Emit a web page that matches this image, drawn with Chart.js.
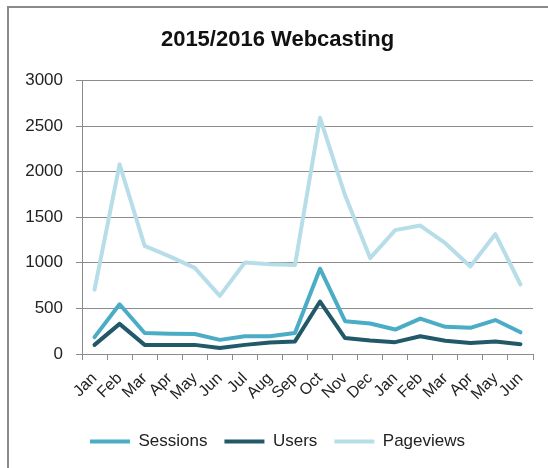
<!DOCTYPE html>
<html>
<head>
<meta charset="utf-8">
<script src="https://cdn.jsdelivr.net/npm/chart.js@4"></script>
<style>
  html, body { margin: 0; padding: 0; background: #fff; }
  #wrap { position: relative; width: 548px; height: 468px; }
  #frame { position: absolute; left: 7px; top: 6px; right: 0; bottom: 0;
           border-top: 2px solid #8a8a8a; border-left: 2px solid #8a8a8a; }
  canvas { position: absolute; left: 0; top: 0; }
</style>
</head>
<body>
<div id="wrap">
  <div id="frame"></div>
  <canvas id="lineChartCanvas" width="548" height="468"></canvas>
</div>
<script>
const months = ['Jan', 'Feb', 'Mar', 'Apr', 'May', 'Jun', 'Jul', 'Aug', 'Sep',
                'Oct', 'Nov', 'Dec', 'Jan', 'Feb', 'Mar', 'Apr', 'May', 'Jun'];
const sessions = [185, 545, 230, 222, 220, 155, 195, 195, 230, 935, 360, 335, 268, 388, 298, 287, 372, 238];
const users = [100, 330, 100, 100, 100, 65, 100, 125, 138, 575, 175, 148, 130, 195, 145, 120, 137, 108];
const pageviews = [705, 2080, 1185, 1070, 945, 637, 1003, 983, 975, 2590, 1740, 1052, 1358, 1408, 1215, 960, 1315, 762];
const yTicks = [0, 500, 1000, 1500, 2000, 2500, 3000];

document.addEventListener('DOMContentLoaded', function () {
    const ctx = document.getElementById('lineChartCanvas').getContext('2d');
    const fontFamily = "'Liberation Sans', Arial, sans-serif";
    const axisFont = { family: fontFamily, size: 17 };
    const gridGray = '#8c8c8c';

    new Chart(ctx, {
        type: 'line',
        data: {
            labels: months,
            datasets: [
                { label: 'Sessions', data: sessions, borderColor: '#4bacc6', backgroundColor: '#4bacc6' },
                { label: 'Users', data: users, borderColor: '#215968', backgroundColor: '#215968' },
                { label: 'Pageviews', data: pageviews, borderColor: '#b7dee8', backgroundColor: '#b7dee8' }
            ]
        },
        options: {
            responsive: false,
            animation: false,
            layout: { padding: { left: 22, right: 15, top: 0, bottom: 8 } },
            elements: {
                line: { borderWidth: 4, tension: 0, borderCapStyle: 'round', borderJoinStyle: 'round' },
                point: { radius: 0 }
            },
            plugins: {
                title: {
                    display: true,
                    text: '2015/2016 Webcasting',
                    color: '#111',
                    font: { family: fontFamily, size: 22, weight: 'bold' },
                    padding: { top: 27, bottom: 27 }
                },
                legend: {
                    position: 'bottom',
                    labels: {
                        color: '#222',
                        font: axisFont,
                        boxWidth: 40,
                        boxHeight: 4,
                        padding: 17,
                        generateLabels: function (chart) {
                            // flat legend swatches, no outline
                            return Chart.defaults.plugins.legend.labels.generateLabels(chart)
                                .map(item => Object.assign(item, { lineWidth: 0 }));
                        }
                    }
                },
                tooltip: { enabled: false }
            },
            scales: {
                x: {
                    offset: true,
                    grid: { offset: true, drawOnChartArea: false, drawTicks: true, tickLength: 6, color: gridGray },
                    border: { color: gridGray },
                    ticks: { color: '#222', font: { family: fontFamily, size: 16 },
                             maxRotation: 45, minRotation: 45, autoSkip: false, padding: 9 },
                    afterFit: function (scale) { scale.height = 62; }
                },
                y: {
                    min: 0,
                    max: 3000,
                    afterBuildTicks: function (scale) { scale.ticks = yTicks.map(v => ({ value: v })); },
                    grid: { color: gridGray, tickLength: 6 },
                    border: { color: gridGray },
                    ticks: { color: '#222', font: axisFont, padding: 13, callback: v => String(v) },
                    afterFit: function (scale) { scale.width = 60; }
                }
            }
        }
    });
});
</script>
</body>
</html>
